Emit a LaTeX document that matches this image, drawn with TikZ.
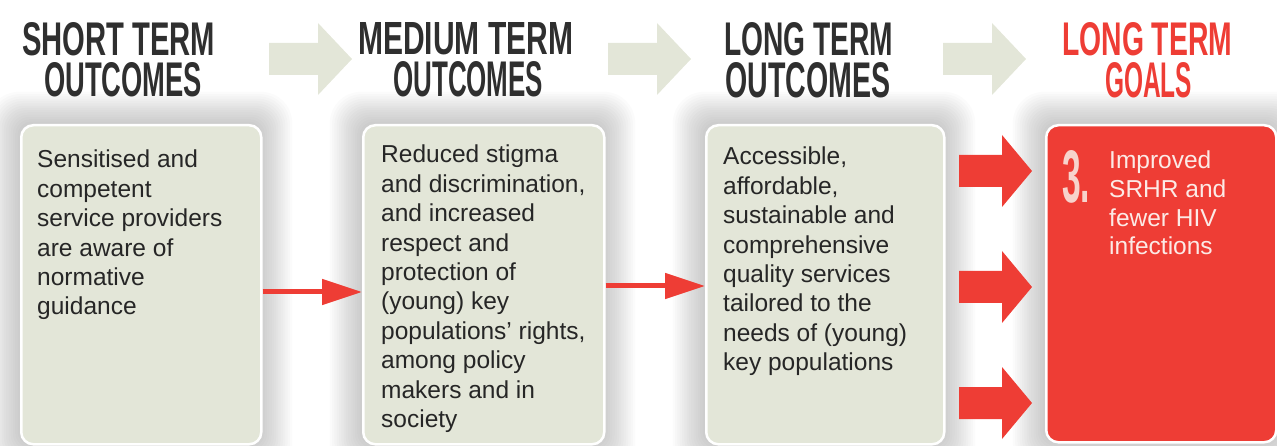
\documentclass[tikz,border=0pt]{standalone}
\usepackage{fontspec}
\usepackage{graphicx}
\setmainfont{Liberation Sans}
\usetikzlibrary{arrows.meta}
\definecolor{boxfill}{HTML}{E3E6D8}
\definecolor{hred}{HTML}{EE3D35}
\definecolor{bodytxt}{HTML}{262626}
\definecolor{headtxt}{HTML}{2F2F2F}
\definecolor{goaltxt}{HTML}{FCEAE6}
\definecolor{goalnum}{HTML}{F7D3CC}
\newcommand\headlines[7]{\vbox{\offinterlineskip\hbox{\resizebox{#1}{#2}{#3}}\kern7pt\hbox{\kern#4\resizebox{#5}{#6}{#7}}}}
\tikzset{
  outbox/.style={draw=white, line width=2.5pt, rounded corners=12pt, fill=boxfill, inner sep=0pt, anchor=north west},
  goalbox/.style={outbox, fill=hred},
  heading/.style={anchor=north west, inner sep=0pt, text=headtxt, font=\bfseries},
  goalheading/.style={heading, text=hred},
  bodytext/.style={anchor=base west, inner sep=0pt, text=bodytxt, font=\fontsize{24.5pt}{29.4pt}\selectfont},
  goaltext/.style={bodytext, text=goaltxt, font=\fontsize{24.5pt}{28.6pt}\selectfont},
  link/.style={draw=hred, line width=5pt, -{Triangle[length=40pt,width=25pt]}},
  headarrow/.pic={\fill[boxfill] (-83,-16) -- (-34,-16) -- (-34,-36) -- (0,0) -- (-34,36) -- (-34,16) -- (-83,16) -- cycle;},
  goalarrow/.pic={\fill[hred] (-73,-16) -- (-30,-16) -- (-30,-36) -- (0,0) -- (-30,36) -- (-30,16) -- (-73,16) -- cycle;},
}
\begin{document}
\begin{tikzpicture}[x=1pt,y=-1pt]
\useasboundingbox (0,0) rectangle (1277,446);
\clip (0,0) rectangle (1277,446);
% soft glow around the boxes
\foreach \i in {1,...,14}{
  \pgfmathsetmacro\e{2.3*\i}
  \pgfmathsetmacro\r{12+0.6*\e}
  \fill[black, opacity=0.016, rounded corners=\r pt]
    ({20-\e},{124-\e}) rectangle ({260+\e},{443+\e})
    ({362-\e},{124-\e}) rectangle ({603+\e},{443+\e})
    ({705-\e},{124-\e}) rectangle ({943+\e},{443+\e})
    ({1045-\e},{124-\e}) rectangle ({1275+\e},{441+\e});
}
% header arrows
\pic (ha1) at (352,59) {headarrow};
\pic (ha2) at (691,59) {headarrow};
\pic (ha3) at (1026,59) {headarrow};
% headings
\node[heading] (h1) at (22,22) {\headlines{193pt}{33pt}{SHORT TERM}{22pt}{158pt}{34pt}{OUTCOMES}};
\node[heading] (h2) at (358,22) {\headlines{215pt}{32pt}{MEDIUM TERM}{35pt}{150pt}{35pt}{OUTCOMES}};
\node[heading] (h3) at (724,22) {\headlines{169pt}{33pt}{LONG TERM}{1pt}{165pt}{35pt}{OUTCOMES}};
\node[goalheading] (h4) at (1062,22) {\headlines{170pt}{33pt}{LONG TERM}{43pt}{87pt}{35pt}{GOALS}};
% boxes
\node[outbox, minimum width=240pt, minimum height=319pt] (b1) at (20,124) {};
\node[outbox, minimum width=241pt, minimum height=319pt] (b2) at (362,124) {};
\node[outbox, minimum width=238pt, minimum height=319pt] (b3) at (705,124) {};
\node[goalbox, minimum width=230pt, minimum height=317pt] (b4) at (1045,124) {};
% texts
\node[bodytext] (t1) at (37,168) {\parbox[t]{300pt}{\raggedright Sensitised and\\competent\\service providers\\are aware of\\normative\\guidance}};
\node[bodytext] (t2) at (381,163) {\parbox[t]{300pt}{\raggedright Reduced stigma\\and discrimination,\\and increased\\respect and\\protection of\\(young) key\\populations’ rights,\\among policy\\makers and in\\society}};
\node[bodytext] (t3) at (723,165) {\parbox[t]{300pt}{\raggedright Accessible,\\affordable,\\sustainable and\\comprehensive\\quality services\\tailored to the\\needs of (young)\\key populations}};
\node[anchor=north west, inner sep=0pt, text=goalnum, font=\bfseries] (n3) at (1062,150) {\resizebox{28pt}{52pt}{3.}};
\node[goaltext] (t4) at (1109,169) {\parbox[t]{200pt}{\raggedright Improved\\SRHR and\\fewer HIV\\infections}};
% connectors
\coordinate (l1) at (0,292);
\coordinate (l2) at (0,286);
\draw[link] (b1.east |- l1) -- (b2.west |- l1);
\draw[link] (b2.east |- l2) -- (b3.west |- l2);
\pic (g1) at (1032,171) {goalarrow};
\pic (g2) at (1032,287) {goalarrow};
\pic (g3) at (1032,403) {goalarrow};
\end{tikzpicture}
\end{document}
